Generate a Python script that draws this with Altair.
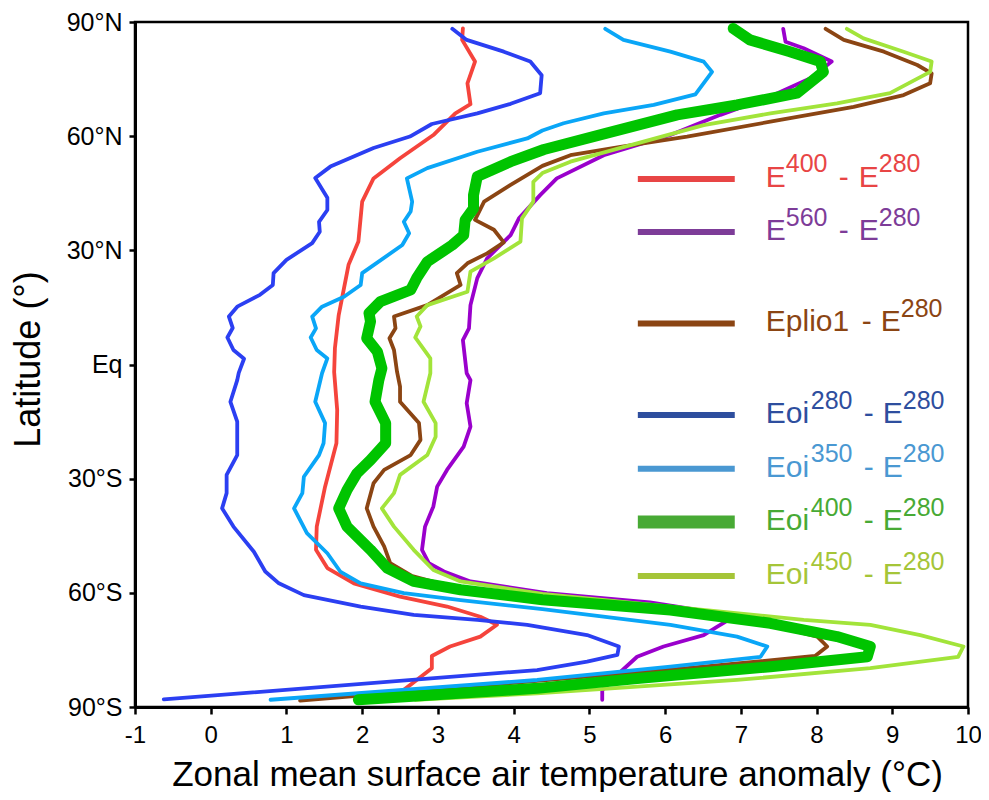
import altair as alt
import pandas as pd

# ---------------- data ----------------
red_lat = [88.3, 85.3, 79.6, 73.9, 68.4, 66.0, 60.3, 54.2, 48.9, 42.8, 32.3, 26.2, 13.0, 4.3, -2.0,
           -12.0, -20.7, -32.1, -42.6, -48.7, -53.5, -57.5, -61.0, -63.6, -66.3, -68.4, -71.5,
           -74.1, -76.6, -79.8, -82.9, -85.5, -87.0]
red_t = [3.33, 3.32, 3.49, 3.39, 3.43, 3.23, 2.94, 2.50, 2.15, 2.00, 1.95, 1.82, 1.69, 1.64, 1.63,
         1.67, 1.66, 1.51, 1.40, 1.39, 1.54, 1.89, 2.50, 3.12, 3.56, 3.78, 3.56,
         3.16, 2.92, 2.92, 2.72, 2.55, 2.59]

purple_lat = [88.2, 84.8, 83.1, 79.6, 75.2, 70.4, 65.6, 60.3, 55.0, 48.9, 44.5, 38.4, 34.0, 27.9,
              22.7, 15.6, 9.5, 6.4, -2.3, -4.1, -10.2, -16.3, -21.6, -27.7, -32.1, -37.3, -42.6,
              -48.7, -52.2, -54.4, -57.0, -60.1, -62.5, -65.0, -67.0, -68.9, -71.1, -74.1, -76.8,
              -80.8, -85.6, -88.1]
purple_t = [7.56, 7.59, 7.83, 8.20, 7.92, 7.39, 6.73, 6.07, 5.19, 4.57, 4.35, 4.07, 3.96, 3.65,
            3.52, 3.43, 3.41, 3.33, 3.38, 3.43, 3.38, 3.43, 3.34, 3.12, 2.99, 2.94, 2.83,
            2.79, 2.88, 3.08, 3.43, 4.44, 5.80, 6.60, 6.85, 6.69, 6.51, 5.98, 5.63,
            5.41, 5.17, 5.17]

brown_lat = [88.2, 85.3, 82.2, 78.7, 76.5, 73.9, 70.8, 67.7, 63.8, 59.9, 57.2, 55.0, 52.2, 47.2,
             42.8, 38.0, 35.4, 32.1, 29.2, 26.6, 24.0, 20.9, 15.6, 12.6, 9.5, 6.9, 3.8, -1.9, -5.8,
             -9.8, -15.4, -19.8, -23.8, -27.7, -31.2, -37.8, -42.6, -47.8, -52.2, -55.5, -58.5,
             -61.0, -64.0, -68.0, -71.5, -74.1, -76.6, -79.8, -84.0, -88.3]
brown_t = [8.12, 8.36, 8.89, 9.33, 9.52, 9.50, 9.15, 8.49, 7.39, 6.29, 5.41, 4.75, 4.38, 3.96,
           3.61, 3.49, 3.74, 3.87, 3.65, 3.39, 3.25, 3.30, 2.86, 2.42, 2.44, 2.36, 2.42, 2.46, 2.50,
           2.50, 2.75, 2.77, 2.64, 2.29, 2.15, 2.06, 2.15, 2.29, 2.37, 2.65, 3.20,
           4.40, 5.90, 7.30, 8.01, 8.14, 7.98, 6.29, 3.80, 1.18]

dblue_lat = [88.2, 85.3, 82.2, 79.6, 76.0, 71.3, 68.5, 66.0, 63.2, 59.9, 56.9, 52.0, 49.0, 43.8,
             40.6, 37.5, 34.9, 31.9, 27.5, 24.0, 20.9, 18.3, 15.2, 12.6, 9.6, 7.1, 3.8, 1.5, -2.2,
             -4.1, -9.8, -15.0, -23.8, -29.0, -33.8, -37.8, -42.6, -49.2, -54.4, -57.5, -60.6,
             -63.6, -65.8, -67.1, -68.4, -71.1, -74.1, -76.3, -78.1, -80.3, -88.0]
dblue_t = [3.19, 3.38, 3.87, 4.22, 4.37, 4.35, 3.96, 3.52, 2.92, 2.63, 2.15, 1.58, 1.38, 1.54,
           1.54, 1.43, 1.44, 1.34, 1.00, 0.83, 0.82, 0.65, 0.35, 0.24, 0.29, 0.22, 0.30, 0.44, 0.37,
           0.35, 0.26, 0.35, 0.35, 0.21, 0.21, 0.15, 0.30, 0.57, 0.72, 0.90, 1.23,
           1.98, 2.68, 3.52, 4.18, 4.97, 5.39, 5.37, 4.97, 4.31, -0.62]

lblue_lat = [88.2, 85.3, 82.2, 79.6, 76.9, 71.0, 68.2, 66.0, 63.4, 61.5, 59.4, 55.9, 51.6, 48.9,
             42.8, 40.2, 37.5, 34.5, 31.4, 24.0, 20.9, 17.8, 15.2, 12.6, 9.5, 7.1, 3.8, 1.6, -2.3,
             -9.8, -15.4, -20.7, -23.8, -29.5, -33.8, -37.8, -44.3, -49.6, -54.4, -57.5, -60.1,
             -61.9, -64.3, -68.4, -71.5, -74.1, -76.8, -79.4, -82.9, -88.1]
lblue_t = [5.21, 5.45, 6.07, 6.51, 6.62, 6.40, 5.85, 5.19, 4.66, 4.38, 4.18, 3.52, 2.86, 2.59,
           2.66, 2.64, 2.55, 2.62, 2.53, 2.00, 1.98, 1.76, 1.47, 1.34, 1.39, 1.32, 1.40, 1.54, 1.47,
           1.38, 1.51, 1.49, 1.43, 1.23, 1.21, 1.10, 1.27, 1.54, 1.71, 1.98, 2.55,
           3.30, 4.38, 6.07, 6.95, 7.35, 7.26, 6.07, 4.31, 0.79]

green_lat = [88.3, 85.3, 82.2, 79.6, 76.9, 71.3, 68.2, 65.6, 60.8, 56.5, 53.3, 49.4, 44.5, 41.0,
             38.0, 34.0, 31.4, 27.0, 22.7, 19.6, 16.5, 13.5, 11.3, 6.9, 3.4, -1.0, -4.1, -9.8,
             -15.4, -20.7, -25.1, -28.6, -33.0, -37.8, -42.6, -48.7, -53.5, -57.0, -59.2, -61.8,
             -64.5, -68.0, -71.5, -74.1, -76.8, -79.4, -82.5, -85.1, -88.1]
green_t = [6.90, 7.12, 7.65, 8.05, 8.09, 7.74, 6.95, 6.16, 5.23, 4.40, 3.96, 3.52, 3.47, 3.47,
           3.36, 3.34, 3.19, 2.86, 2.72, 2.64, 2.24, 2.09, 2.11, 2.06, 2.20, 2.26, 2.22, 2.17,
           2.31, 2.31, 2.11, 1.93, 1.80, 1.69, 1.80, 2.11, 2.33, 2.68, 3.30, 4.38,
           6.07, 7.39, 8.27, 8.71, 8.67, 7.39, 5.63, 4.31, 1.95]

lgreen_lat = [88.2, 85.7, 82.2, 79.6, 76.9, 71.3, 68.6, 66.0, 62.9, 58.1, 53.3, 50.3, 48.0, 42.8,
              38.4, 32.3, 27.9, 24.4, 19.1, 15.6, 12.6, 10.0, 7.1, 1.6, -2.3, -9.8, -15.4, -19.0,
              -23.8, -29.0, -33.8, -37.8, -42.6, -48.7, -54.0, -57.0, -60.3, -63.6, -67.1, -68.4,
              -71.1, -74.1, -76.8, -79.8, -82.9, -86.4, -88.1]
lgreen_t = [8.40, 8.62, 9.15, 9.52, 9.50, 8.97, 8.27, 7.39, 6.51, 5.63, 4.75, 4.38, 4.26, 4.26,
            4.11, 4.09, 3.74, 3.43, 3.39, 2.86, 2.72, 2.77, 2.70, 2.90, 2.90, 2.81, 2.97, 2.97,
            2.86, 2.50, 2.42, 2.26, 2.42, 2.68, 2.94, 3.30, 4.38, 6.07, 7.83, 8.71,
            9.37, 9.94, 9.87, 8.71, 6.95, 4.31, 2.70]

x_ticks = [-1, 0, 1, 2, 3, 4, 5, 6, 7, 8, 9, 10]
y_ticks = [-90, -60, -30, 0, 30, 60, 90]
y_tick_labels = {90: "90°N", 60: "60°N", 30: "30°N", 0: "Eq", -30: "30°S", -60: "60°S", -90: "90°S"}

# ---------------- styling / layout ----------------
FONT = "Liberation Sans"
W, H = 833, 685

label_expr = " : ".join(
    f"datum.value == {k} ? '{v}'" for k, v in y_tick_labels.items()
) + " : ''"

XAXIS = alt.Axis(values=x_ticks, labelExpr="'' + datum.value",
                 title="Zonal mean surface air temperature anomaly (°C)",
                 labelFont=FONT, labelFontSize=24, labelColor="black", labelPadding=9,
                 tickSize=7, tickWidth=2.5, tickColor="black", domainColor="black", domainWidth=3,
                 grid=False, titleFont=FONT, titleFontSize=35, titleFontWeight="normal",
                 titleColor="black", titleX=422, titleY=78, titleAlign="center",
                 titleBaseline="alphabetic", labelFlush=False)
YAXIS = alt.Axis(values=y_ticks, labelExpr=label_expr, title="Latitude (°)",
                 labelFont=FONT, labelFontSize=25, labelColor="black", labelPadding=7,
                 tickSize=6, tickWidth=2.5, tickColor="black", domainColor="black", domainWidth=3,
                 grid=False, titleFont=FONT, titleFontSize=36, titleFontWeight="normal",
                 titleColor="black", titleX=-96, titleY=337, titleAlign="center",
                 titleBaseline="alphabetic", titleAngle=270, labelFlush=False)

XS = alt.Scale(domain=[-1, 10], nice=False, zero=False)
YS = alt.Scale(domain=[-90, 90], nice=False, zero=False)


def line_layer(lats, temps, color, width):
    df = pd.DataFrame({"lat": lats, "t": temps})
    df["i"] = range(len(df))
    return alt.Chart(df).mark_line(color=color, strokeWidth=width, strokeCap="round",
                                   strokeJoin="round", clip=True).encode(
        x=alt.X("t:Q", scale=XS, axis=XAXIS),
        y=alt.Y("lat:Q", scale=YS, axis=YAXIS),
        order="i:Q",
    )


layers = [
    line_layer(red_lat, red_t, "#f5443c", 3.8),
    line_layer(purple_lat, purple_t, "#9a00cc", 3.8),
    line_layer(brown_lat, brown_t, "#8b4513", 3.8),
    line_layer(lgreen_lat, lgreen_t, "#a2e43a", 3.8),
    line_layer(lblue_lat, lblue_t, "#0aa6f7", 3.8),
    line_layer(dblue_lat, dblue_t, "#2b3ff2", 3.8),
    line_layer(green_lat, green_t, "#00c400", 11),
]

# ---------------- custom legend ----------------
LEG_X0, LEG_X1, LEG_TX = 5.64, 6.92, 7.33
SUP, MAIN = "sup", "main"
legend_entries = [
    (48.75, "#e84545", 6, [("E", 0, MAIN), ("400", 20, SUP), ("-", 73, MAIN), ("E", 93, MAIN), ("280", 113, SUP)]),
    (34.8, "#7d3c98", 6, [("E", 0, MAIN), ("560", 20, SUP), ("-", 73, MAIN), ("E", 93, MAIN), ("280", 113, SUP)]),
    (10.8, "#8b4513", 6, [("Eplio1", 0, MAIN), ("-", 96, MAIN), ("E", 115, MAIN), ("280", 135, SUP)]),
    (-13.3, "#2e4e9e", 6, [("Eoi", 0, MAIN), ("280", 45, SUP), ("-", 98, MAIN), ("E", 117, MAIN), ("280", 137, SUP)]),
    (-27.4, "#4a98d2", 6, [("Eoi", 0, MAIN), ("350", 45, SUP), ("-", 98, MAIN), ("E", 117, MAIN), ("280", 137, SUP)]),
    (-41.4, "#48aa35", 13, [("Eoi", 0, MAIN), ("400", 45, SUP), ("-", 98, MAIN), ("E", 117, MAIN), ("280", 137, SUP)]),
    (-55.6, "#a5c538", 6, [("Eoi", 0, MAIN), ("450", 45, SUP), ("-", 98, MAIN), ("E", 117, MAIN), ("280", 137, SUP)]),
]

for lat, col, sw, pieces in legend_entries:
    sdf = pd.DataFrame({"t": [LEG_X0], "t2": [LEG_X1], "lat": [lat]})
    layers.append(
        alt.Chart(sdf).mark_rule(color=col, strokeWidth=sw).encode(
            x=alt.X("t:Q", scale=XS, axis=XAXIS), x2="t2:Q",
            y=alt.Y("lat:Q", scale=YS, axis=YAXIS))
    )
    for txt, dx, kind in pieces:
        tdf = pd.DataFrame({"t": [LEG_TX], "lat": [lat], "s": [txt]})
        if kind == MAIN:
            fs, dy = 30, 8
        else:
            fs, dy = 25, -6.5
        layers.append(
            alt.Chart(tdf).mark_text(align="left", baseline="alphabetic", dx=dx, dy=dy,
                                     font=FONT, fontSize=fs, color=col).encode(
                x=alt.X("t:Q", scale=XS, axis=XAXIS),
                y=alt.Y("lat:Q", scale=YS, axis=YAXIS),
                text="s:N")
        )

chart = alt.layer(*layers).properties(
    width=W, height=H,
    autosize=alt.AutoSizeParams(type="none"),
    padding={"left": 127, "top": 14, "right": 13, "bottom": 85},
    background="white",
).configure_view(stroke="black", strokeWidth=2.5)

chart.save("out.html", embed_options={"renderer": "svg", "actions": False})
